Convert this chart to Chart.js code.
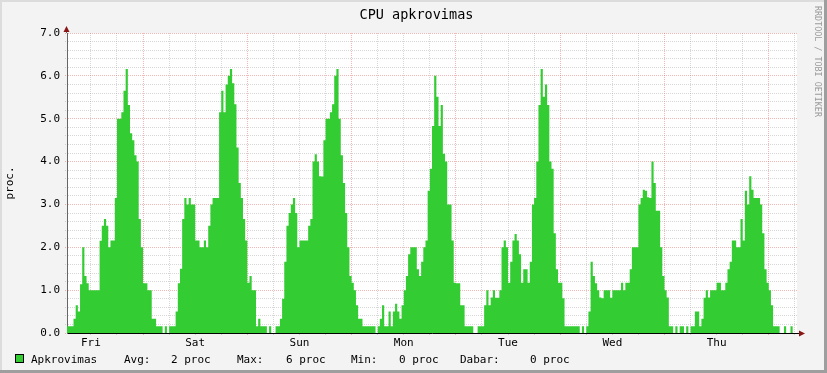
<!DOCTYPE html>
<html>
<head>
<meta charset="utf-8">
<script src="https://cdn.jsdelivr.net/npm/chart.js@4.4.1/dist/chart.umd.min.js"></script>
<style>
html,body{margin:0;padding:0;background:#f3f3f3;}
#wrap{position:relative;width:827px;height:373px;overflow:hidden;}
#c{position:absolute;left:0;top:0;}
.mono{position:absolute;font-family:'DejaVu Sans Mono',monospace;color:#000;white-space:pre;}
#title{left:3px;top:7px;width:827px;text-align:center;font-size:13.5px;line-height:14px;}
.lg{top:354px;font-size:11px;line-height:11px;}
#box{position:absolute;left:15px;top:354px;width:7px;height:7px;background:#33cc33;border:1px solid #000;}
#wm{position:absolute;left:814px;top:6px;writing-mode:vertical-rl;font-family:'DejaVu Sans Mono',monospace;font-size:8.4px;line-height:8px;color:#9a9a9a;white-space:pre;}
</style>
</head>
<body>
<div id="wrap">
<canvas id="c" width="827" height="373"></canvas>
<div id="title" class="mono">CPU apkrovimas</div>
<div id="wm">RRDTOOL / TOBI OETIKER</div>
<div id="box"></div>
<div class="mono lg" style="left:31px">Apkrovimas</div>
<div class="mono lg" style="left:124px">Avg:</div>
<div class="mono lg" style="left:171px">2 proc</div>
<div class="mono lg" style="left:237px">Max:</div>
<div class="mono lg" style="left:286px">6 proc</div>
<div class="mono lg" style="left:351px">Min:</div>
<div class="mono lg" style="left:399px">0 proc</div>
<div class="mono lg" style="left:460px">Dabar:</div>
<div class="mono lg" style="left:530px">0 proc</div>
</div>
<script>
// Day labels (placed at noon of each day)
const dayLabels = ['Fri','Sat','Sun','Mon','Tue','Wed','Thu'];
// Y tick labels (major lines)
const yTickLabels = ['0.0','1.0','2.0','3.0','4.0','5.0','6.0','7.0'];
// CPU load, one value per 30 minute slot (336 slots = 7 days)
const cpuLoad = [
 0.16,0.16,0.16,0.33,0.65,0.5,1.14,2.0,1.33,1.16,1.0,1.0,
 1.0,1.0,1.0,2.15,2.5,2.66,2.5,2.0,2.16,2.16,3.15,5.0,
 5.0,5.15,5.65,6.16,5.32,4.66,4.5,4.15,4.0,2.66,2.0,1.16,
 1.16,1.0,1.0,0.33,0.33,0.16,0.16,0.16,0,0.16,0,0.16,
 0.16,0.16,0.5,1.16,1.5,2.66,3.15,3.0,3.15,3.0,3.0,2.16,
 2.16,2.0,2.0,2.16,2.0,2.5,3.0,3.15,3.15,3.15,5.15,5.65,
 5.15,5.8,6.0,6.16,5.83,5.34,4.33,3.5,3.15,2.66,2.16,1.17,
 1.33,1.0,1.0,0.16,0.33,0.16,0.16,0.16,0,0.16,0,0,
 0.16,0.16,0.33,0.8,1.66,2.5,2.8,3.0,3.15,2.8,2.0,2.16,
 2.16,2.16,2.16,2.5,2.66,4.0,4.17,4.0,3.66,3.65,4.5,5.0,
 5.0,5.15,5.34,6.0,6.16,5.0,4.15,3.5,2.8,2.0,1.33,1.17,
 1.0,0.65,0.33,0.33,0.16,0.16,0.16,0.16,0.16,0.16,0,0.16,
 0.33,0.65,0.16,0.16,0.5,0.16,0.5,0.68,0.5,0.33,0.65,1.0,
 1.33,1.84,2.0,2.0,2.0,1.49,1.33,1.66,2.0,2.16,3.32,3.83,
 4.83,6.0,5.51,4.83,5.32,4.18,4.0,3.0,3.0,2.16,1.17,1.16,
 1.16,0.65,0.65,0.16,0.16,0.16,0.16,0,0,0.16,0.16,0.16,
 0.65,1.0,0.65,0.83,1.0,0.82,0.82,1.0,2.0,2.16,2.0,1.17,
 1.66,2.16,2.31,2.16,1.84,1.17,1.49,1.49,1.17,1.66,3.0,3.15,
 4.0,5.32,6.16,5.51,5.8,5.32,4.0,3.83,2.33,1.49,1.17,1.17,
 0.81,0.16,0.16,0.16,0.16,0.16,0.16,0.16,0,0.16,0,0.16,
 0.5,1.66,1.33,1.16,1.0,0.83,0.81,1.0,1.0,1.0,0.82,1.0,
 1.0,1.0,1.0,1.17,1.0,1.17,1.17,1.49,2.0,2.0,2.0,3.0,
 3.15,3.34,3.32,3.17,3.15,4.0,3.5,2.85,2.85,2.0,1.33,1.0,
 0.83,0.16,0.16,0,0.16,0,0.16,0.16,0,0.16,0,0.16,
 0.16,0.5,0.5,0.16,0.33,0.82,1.0,0.83,1.0,1.0,1.0,1.17,
 1.17,1.0,1.0,1.17,1.49,1.66,2.16,2.16,2.0,2.0,2.66,2.16,
 3.32,3.0,3.66,3.34,3.15,3.15,3.15,3.0,2.33,1.49,1.17,1.0,
 0.65,0.16,0.16,0.16,0,0,0.16,0,0,0.16,0,0
];

const SLOTS_PER_DAY = 48;   // 30-minute slots
const FIRST_NOON = 11;      // slot index of first noon (Fri 12:00)
const FIRST_MIDNIGHT = 35;  // slot index of first midnight
const MINOR_X = 12;         // 6 hours
const Y_MAX = 7, Y_MINOR = 0.2;

const points = cpuLoad.map((v, i) => ({x: i, y: v}));
points.push({x: cpuLoad.length, y: cpuLoad[cpuLoad.length - 1]});

const xTickValues = [];
for (let v = FIRST_NOON; v < cpuLoad.length; v += MINOR_X) xTickValues.push(v);
const yTickValues = [];
for (let k = 0; k <= Math.round(Y_MAX / Y_MINOR); k++) yTickValues.push(+(k * Y_MINOR).toFixed(1));

const isInt = v => Math.abs(v - Math.round(v)) < 1e-6;
const MAJOR = 'rgba(222,80,80,0.42)';
const MINOR = 'rgba(150,150,150,0.38)';

const decor = {
  id: 'decor',
  beforeDraw(chart) {
    const {ctx, chartArea: a, width, height} = chart;
    ctx.save();
    ctx.fillStyle = '#f3f3f3';
    ctx.fillRect(0, 0, width, height);
    ctx.fillStyle = '#ffffff';
    ctx.fillRect(a.left, a.top, a.right - a.left, a.bottom - a.top);
    ctx.fillStyle = '#dcdcdc';
    ctx.fillRect(0, 0, width, 2);
    ctx.fillRect(0, 0, 2, height);
    ctx.fillStyle = '#9e9e9e';
    ctx.fillRect(width - 3, 0, 3, height);
    ctx.fillRect(0, height - 3, width, 3);
    ctx.restore();
  },
  afterDraw(chart) {
    const {ctx, chartArea: a} = chart;
    ctx.save();
    ctx.strokeStyle = '#000';
    ctx.lineWidth = 1;
    ctx.beginPath();
    ctx.moveTo(a.right, a.bottom + 0.5);
    ctx.lineTo(a.right + 3, a.bottom + 0.5);
    ctx.stroke();
    ctx.strokeStyle = '#666';
    ctx.beginPath();
    ctx.moveTo(a.left - 0.5, a.top);
    ctx.lineTo(a.left - 0.5, a.top - 2);
    ctx.stroke();
    ctx.fillStyle = '#8a1515';
    ctx.beginPath();
    ctx.moveTo(a.left - 3.5, a.top - 1);
    ctx.lineTo(a.left + 2.5, a.top - 1);
    ctx.lineTo(a.left - 0.5, a.top - 7);
    ctx.closePath();
    ctx.fill();
    ctx.beginPath();
    ctx.moveTo(a.right + 2, a.bottom - 2.5);
    ctx.lineTo(a.right + 2, a.bottom + 3.5);
    ctx.lineTo(a.right + 8, a.bottom + 0.5);
    ctx.closePath();
    ctx.fill();
    ctx.restore();
  }
};

const monoFont = {family: "'DejaVu Sans Mono', monospace", size: 11, weight: 'normal'};

new Chart(document.getElementById('c'), {
  type: 'line',
  data: {
    datasets: [{
      label: 'Apkrovimas',
      data: points,
      stepped: 'before',
      fill: 'origin',
      backgroundColor: '#33cc33',
      borderColor: '#33cc33',
      borderWidth: 0,
      pointRadius: 0,
      pointHoverRadius: 0
    }]
  },
  options: {
    responsive: false,
    maintainAspectRatio: false,
    animation: false,
    events: [],
    devicePixelRatio: 1,
    layout: {padding: {left: 0, right: 30, top: 33, bottom: 0}},
    plugins: {legend: {display: false}, tooltip: {enabled: false}, title: {display: false}},
    scales: {
      x: {
        type: 'linear',
        min: 0,
        max: cpuLoad.length,
        offset: false,
        afterBuildTicks: s => { s.ticks = xTickValues.map(v => ({value: v})); },
        afterFit: s => { s.height = 40; },
        ticks: {
          autoSkip: false, maxRotation: 0, minRotation: 0, padding: 1,
          color: '#000', font: monoFont,
          callback: v => ((v - FIRST_NOON) % SLOTS_PER_DAY === 0) ? dayLabels[(v - FIRST_NOON) / SLOTS_PER_DAY] : ''
        },
        grid: {
          color: c => (c.tick && (c.tick.value - FIRST_MIDNIGHT) % SLOTS_PER_DAY === 0) ? MAJOR : MINOR,
          lineWidth: 1, drawTicks: true, tickLength: 3,
          tickBorderDash: [1, 1]
        },
        border: {display: true, color: '#000', width: 1, dash: [1, 1]}
      },
      y: {
        type: 'linear',
        min: 0,
        max: Y_MAX,
        afterBuildTicks: s => { s.ticks = yTickValues.map(v => ({value: v})); },
        afterFit: s => { s.width = 67; },
        ticks: {
          autoSkip: false, padding: 5, color: '#000', font: monoFont,
          callback: v => isInt(v) ? yTickLabels[Math.round(v)] : ''
        },
        grid: {
          color: c => (c.tick && isInt(c.tick.value)) ? MAJOR : MINOR,
          lineWidth: 1, drawTicks: true, tickLength: 2,
          tickBorderDash: [1, 1]
        },
        border: {display: true, color: '#666', width: 1, dash: [1, 1]},
        title: {display: true, text: 'proc.', color: '#000', font: monoFont, padding: {top: 4, bottom: 0}}
      }
    }
  },
  plugins: [decor]
});
</script>
</body>
</html>
